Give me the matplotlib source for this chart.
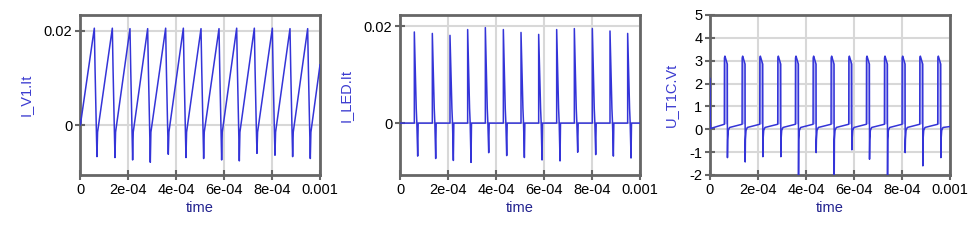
import numpy as np
import matplotlib
matplotlib.use("Agg")
import matplotlib.pyplot as plt

plt.rcParams['font.family'] = ['Liberation Sans', 'DejaVu Sans']

# ---------------- data (time in microseconds) ----------------
t1_us = [0, 1, 2,
         59.7, 62.7, 67.7, 70.7, 73.2,
         134.7, 137.7, 142.7, 145.7, 148.2,
         208.3, 211.3, 216.3, 219.3, 221.8,
         281.9, 284.9, 289.9, 292.9, 295.4,
         356.9, 359.9, 364.9, 367.9, 370.4,
         430.6, 433.6, 438.6, 441.6, 444.1,
         504.2, 507.2, 512.2, 515.2, 517.7,
         579.2, 582.2, 587.2, 590.2, 592.7,
         652.8, 655.8, 660.8, 663.8, 666.3,
         726.4, 729.4, 734.4, 737.4, 739.9,
         801.4, 804.4, 809.4, 812.4, 814.9,
         875.0, 878.0, 883.0, 886.0, 888.5,
         948.6, 951.6, 956.6, 959.6, 962.1,
         1000]
i_v1 = [0, 0.0012, 0.0002,
        0.0206, 0.012, 0.0, -0.0067, -0.0015,
        0.0206, 0.012, 0.0, -0.0069, -0.0015,
        0.0205, 0.012, 0.0, -0.0074, -0.0015,
        0.0205, 0.012, 0.0, -0.0079, -0.0015,
        0.0206, 0.012, 0.0, -0.0062, -0.0015,
        0.0206, 0.012, 0.0, -0.0069, -0.0015,
        0.0205, 0.012, 0.0, -0.0071, -0.0015,
        0.0205, 0.012, 0.0, -0.0074, -0.0015,
        0.0206, 0.012, 0.0, -0.0076, -0.0015,
        0.0206, 0.012, 0.0, -0.0060, -0.0015,
        0.0206, 0.012, 0.0, -0.0064, -0.0015,
        0.0205, 0.012, 0.0, -0.0067, -0.0015,
        0.0205, 0.012, 0.0, -0.0071, -0.0015,
        0.0128]

t2_us = [0,
         59.7, 59.7, 67.7, 70.2, 73.7, 75.7,
         134.7, 134.7, 142.7, 145.2, 148.7, 150.7,
         208.3, 208.3, 216.3, 218.8, 222.3, 224.3,
         281.9, 281.9, 289.9, 292.4, 295.9, 297.9,
         355.6, 355.6, 363.6, 366.1, 369.6, 371.6,
         430.6, 430.6, 438.6, 441.1, 444.6, 446.6,
         504.2, 504.2, 512.2, 514.7, 518.2, 520.2,
         577.8, 577.8, 585.8, 588.3, 591.8, 593.8,
         652.8, 652.8, 660.8, 663.3, 666.8, 668.8,
         726.4, 726.4, 734.4, 736.9, 740.4, 742.4,
         801.4, 801.4, 809.4, 811.9, 815.4, 817.4,
         875.0, 875.0, 883.0, 885.5, 889.0, 891.0,
         948.6, 948.6, 956.6, 959.1, 962.6, 964.6,
         1000]
i_led = [0,
         0, 0.0188, 0.003, 0, -0.0068, 0,
         0, 0.0185, 0.003, 0, -0.0073, 0,
         0, 0.0181, 0.003, 0, -0.0077, 0,
         0, 0.0193, 0.003, 0, -0.0081, 0,
         0, 0.0197, 0.003, 0, -0.0061, 0,
         0, 0.0193, 0.003, 0, -0.0067, 0,
         0, 0.0187, 0.003, 0, -0.0071, 0,
         0, 0.0183, 0.003, 0, -0.0076, 0,
         0, 0.0193, 0.003, 0, -0.0078, 0,
         0, 0.0195, 0.003, 0, -0.0060, 0,
         0, 0.0195, 0.003, 0, -0.0065, 0,
         0, 0.0190, 0.003, 0, -0.0068, 0,
         0, 0.0185, 0.003, 0, -0.0072, 0,
         0]

t3_us = [0, 0.8, 2.5, 10,
         59.7, 60.2, 62.2, 65.7, 72.2, 72.7, 73.7, 76.2, 81.7,
         133.6, 134.1, 136.1, 139.6, 146.1, 146.6, 147.6, 150.1, 155.6,
         207.2, 207.7, 209.7, 213.2, 219.7, 220.2, 221.2, 223.7, 229.2,
         282.2, 282.7, 284.7, 288.2, 294.7, 295.2, 296.2, 298.7, 304.2,
         355.8, 356.3, 358.3, 361.8, 368.3, 368.8, 369.8, 372.3, 377.8,
         429.4, 429.9, 431.9, 435.4, 441.9, 442.4, 443.4, 445.9, 451.4,
         504.4, 504.9, 506.9, 510.4, 516.9, 517.4, 518.4, 520.9, 526.4,
         578.1, 578.6, 580.6, 584.1, 590.6, 591.1, 592.1, 594.6, 600.1,
         651.7, 652.2, 654.2, 657.7, 664.2, 664.7, 665.7, 668.2, 673.7,
         726.7, 727.2, 729.2, 732.7, 739.2, 739.7, 740.7, 743.2, 748.7,
         800.3, 800.8, 802.8, 806.3, 812.8, 813.3, 814.3, 816.8, 822.3,
         873.9, 874.4, 876.4, 879.9, 886.4, 886.9, 887.9, 890.4, 895.9,
         948.9, 949.4, 951.4, 954.9, 961.4, 961.9, 962.9, 965.4, 970.9,
         1000]
u_t1c = [2.22, 0.45, 0.03, 0.06,
         0.22, 3.12, 3.2, 3.08, 2.85, -1.24, -0.45, -0.05, 0.08,
         0.22, 3.12, 3.2, 3.08, 2.85, -1.43, -0.45, -0.05, 0.08,
         0.22, 3.12, 3.2, 3.08, 2.85, -1.20, -0.45, -0.05, 0.08,
         0.22, 3.12, 3.2, 3.08, 2.85, -1.20, -0.45, -0.05, 0.08,
         0.22, 3.12, 3.2, 3.08, 2.85, -2.40, -0.45, -0.05, 0.08,
         0.22, 3.12, 3.2, 3.08, 2.85, -1.02, -0.45, -0.05, 0.08,
         0.22, 3.12, 3.2, 3.08, 2.85, -2.40, -0.45, -0.05, 0.08,
         0.22, 3.12, 3.2, 3.08, 2.85, -0.90, -0.45, -0.05, 0.08,
         0.22, 3.12, 3.2, 3.08, 2.85, -1.31, -0.45, -0.05, 0.08,
         0.22, 3.12, 3.2, 3.08, 2.85, -2.40, -0.45, -0.05, 0.08,
         0.22, 3.12, 3.2, 3.08, 2.85, -1.02, -0.45, -0.05, 0.08,
         0.22, 3.12, 3.2, 3.08, 2.85, -1.60, -0.45, -0.05, 0.08,
         0.22, 3.12, 3.2, 3.08, 2.85, -1.24, -0.45, -0.05, 0.08,
         0.12]

x_ticks = [0, 2e-4, 4e-4, 6e-4, 8e-4, 1e-3]
x_tick_labels = ["0", "2e-04", "4e-04", "6e-04", "8e-04", "0.001"]

panels = [
    dict(t=t1_us, v=i_v1, ylabel="I_V1.It", ylim=(-0.0106, 0.0234),
         yticks=[0, 0.02], yticklabels=["0", "0.02"], left=80, fill=False),
    dict(t=t2_us, v=i_led, ylabel="I_LED.It", ylim=(-0.0107, 0.0223),
         yticks=[0, 0.02], yticklabels=["0", "0.02"], left=400, fill=False),
    dict(t=t3_us, v=u_t1c, ylabel="U_T1C.Vt", ylim=(-2, 5),
         yticks=[-2, -1, 0, 1, 2, 3, 4, 5],
         yticklabels=["-2", "-1", "0", "1", "2", "3", "4", "5"], left=710, fill=True),
]

W, H = 972, 248
fig = plt.figure(figsize=(W / 100, H / 100), dpi=100)
fig.patch.set_facecolor("white")

line_color = "#3434d8"
fill_color = "#8c8cf0"
spine_color = "#666666"
grid_color = "#d8d8d8"

for p in panels:
    ax = fig.add_axes([p["left"] / W, (H - 175) / H, 240 / W, 160 / H])
    t = np.array(p["t"]) * 1e-6
    v = np.array(p["v"])
    if p["fill"]:
        ax.fill_between(t, v, 0.22, where=v > 0.5, color=fill_color,
                        alpha=0.7, linewidth=0, zorder=2)
    ax.plot(t, v, color=line_color, linewidth=1.1, zorder=3)
    ax.set_xlim(0, 0.001)
    ax.set_ylim(*p["ylim"])
    ax.set_xticks(x_ticks)
    ax.set_xticklabels(x_tick_labels)
    ax.set_yticks(p["yticks"])
    ax.set_yticklabels(p["yticklabels"])
    ax.grid(True, color=grid_color, linewidth=1.5, zorder=0)
    ax.set_axisbelow(True)
    for s in ax.spines.values():
        s.set_color(spine_color)
        s.set_linewidth(2)
    ax.tick_params(direction="inout", length=7, width=1.5, color=spine_color,
                   labelsize=10.5, labelcolor="black", pad=2)
    ax.set_xlabel("time", color="#22228f", fontsize=10.5, labelpad=3)
    ax.set_ylabel(p["ylabel"], color="#3b3bd0", fontsize=10.5, labelpad=8)

fig.savefig("out.png", dpi=100)
